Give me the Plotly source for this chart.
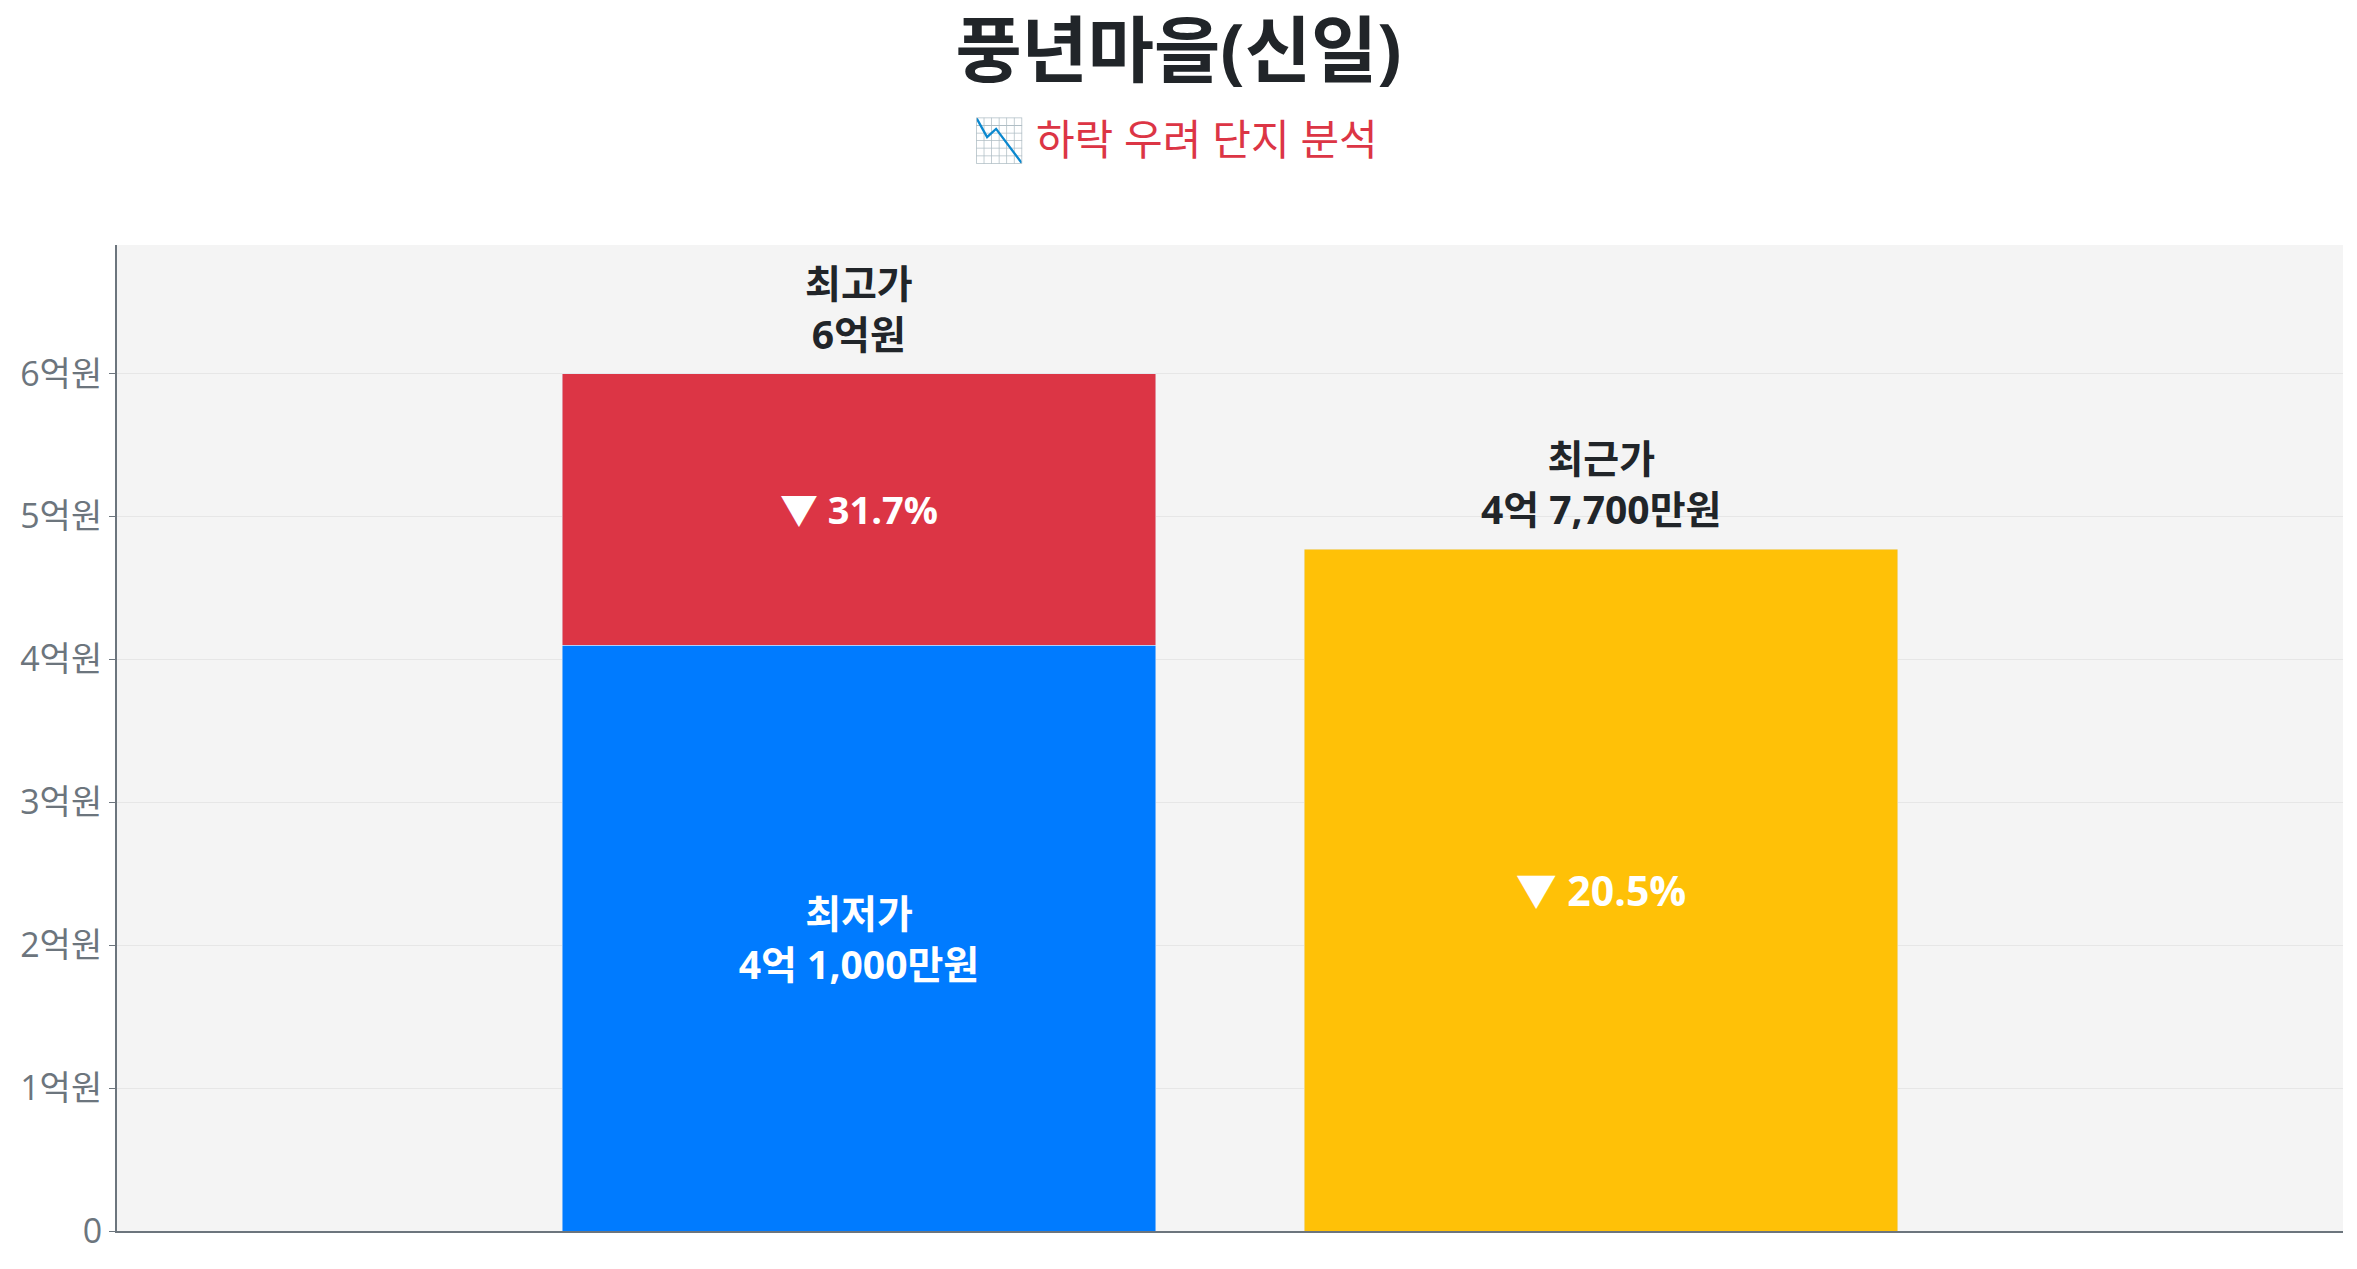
import plotly.graph_objects as go

# 가격 데이터 (원)
categories = ["가격 범위", "최근 거래"]
low_price = 410000000
high_price = 600000000
recent_price = 477000000

low_label = "최저가<br>4억 1,000만원"
high_label = "최고가<br>6억원"
recent_label = "최근가<br>4억 7,700만원"
drop_high = "▼ 31.7%"
drop_recent = "▼ 20.5%"

tick_vals = [0, 100000000, 200000000, 300000000, 400000000, 500000000, 600000000]
tick_text = ["0", "1억원", "2억원", "3억원", "4억원", "5억원", "6억원"]

FONT = "Open Sans, Noto Sans CJK KR"

fig = go.Figure()

fig.add_trace(go.Bar(
    x=[categories[0]], y=[low_price],
    marker_color="#007bff",
    text=[low_label], textposition="inside", insidetextanchor="middle",
    textfont=dict(family=FONT, size=39, color="white", weight="bold"),
    hoverinfo="skip",
))
fig.add_trace(go.Bar(
    x=[categories[0]], y=[high_price - low_price],
    marker_color="#dc3545",
    text=[drop_high], textposition="inside", insidetextanchor="middle",
    textfont=dict(family=FONT, size=38, color="white", weight="bold"),
    hoverinfo="skip",
))
fig.add_trace(go.Bar(
    x=[categories[1]], y=[recent_price],
    marker_color="#ffc107",
    text=[drop_recent], textposition="inside", insidetextanchor="middle",
    textfont=dict(family=FONT, size=41, color="white", weight="bold"),
    hoverinfo="skip",
))

# 막대 위 라벨
for cat, val, lab in [(categories[0], high_price, high_label),
                      (categories[1], recent_price, recent_label)]:
    fig.add_annotation(
        x=cat, y=val, text="<b>" + lab.replace("<br>", "</b><br><b>") + "</b>",
        showarrow=False, yanchor="bottom", yshift=12,
        font=dict(family=FONT, size=39, color="#212529"),
    )

# 부제목
fig.add_annotation(
    x=0.5, y=1.108, xref="paper", yref="paper", yanchor="middle",
    xshift=-55,
    text="📉 하락 우려 단지 분석", showarrow=False,
    font=dict(family=FONT, size=42, color="#dc3545"),
)

fig.update_layout(
    barmode="stack",
    bargap=0.2,
    showlegend=False,
    title=dict(
        text="<b>풍년마을(신일)</b>", x=0.5, xanchor="center",
        y=0.966, yanchor="middle",
        font=dict(family=FONT, size=72, color="#212529"),
    ),
    paper_bgcolor="white",
    plot_bgcolor="#f4f4f4",
    margin=dict(l=109, r=6, t=237, b=30),
    font=dict(family=FONT),
)

fig.update_xaxes(
    range=[-1, 2], showticklabels=False, showgrid=False,
    showline=True, linecolor="#6c757d", linewidth=2, ticks="",
)
fig.update_yaxes(
    range=[0, high_price * 1.15],
    tickvals=tick_vals, ticktext=tick_text,
    tickfont=dict(family=FONT, size=34, color="#6c757d"),
    showgrid=True, gridcolor="#e6e6e6", gridwidth=1,
    showline=True, linecolor="#6c757d", linewidth=2,
    ticks="outside", ticklen=6, tickcolor="#6c757d",
    zeroline=False,
)

fig.write_html("out.html")
